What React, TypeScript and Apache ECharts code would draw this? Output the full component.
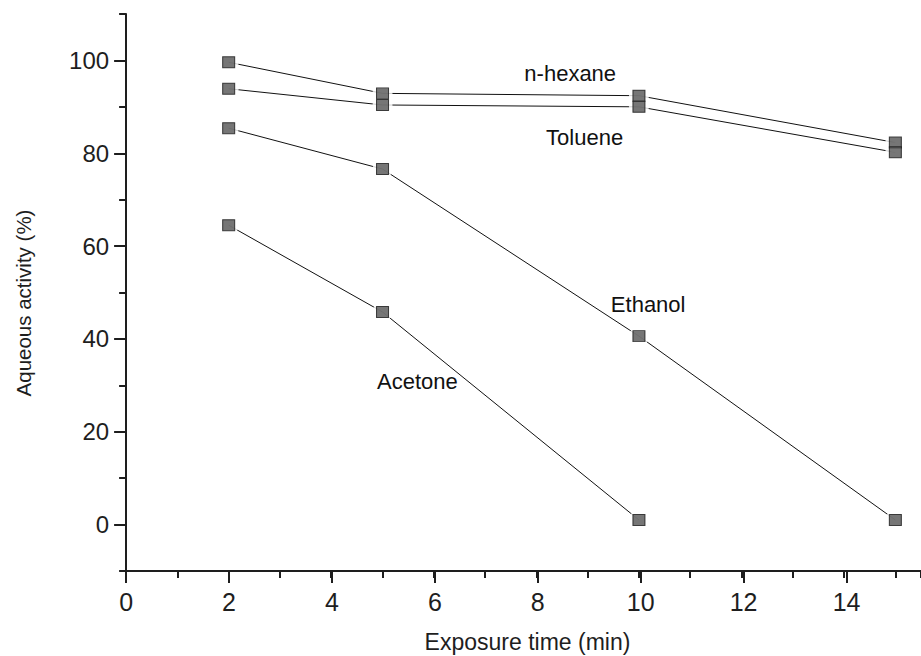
import React, { useEffect, useRef } from "react";
import * as echarts from "echarts";

// ---- data ----
const times = [2, 5, 10, 15];
const hexane = [99.6, 92.9, 92.4, 82.3];
const toluene = [93.9, 90.4, 90.0, 80.2];
const ethanol = [85.4, 76.6, 40.6, 1.0];
const acetoneTimes = [2, 5, 10];
const acetone = [64.5, 45.8, 1.0];

const seriesNames = ["n-hexane", "Toluene", "Ethanol", "Acetone"];
// label anchor positions in data units [time, activity]
const labelX = [8.66, 8.94, 10.18, 5.68];
const labelY = [97.1, 83.5, 47.5, 30.8];

const xTitle = "Exposure time (min)";
const yTitle = "Aqueous activity (%)";

const FONT = "'Liberation Sans', Arial, Helvetica, sans-serif";
const INK = "#1e1e1e";

export default function App() {
  const ref = useRef<HTMLDivElement>(null);

  useEffect(() => {
    if (!ref.current) return;
    const chart = echarts.init(ref.current, null, { renderer: "svg" });

    const pairs = (xs: number[], ys: number[]) => xs.map((x, i) => [x, ys[i]]);
    const curves = [
      pairs(times, hexane),
      pairs(times, toluene),
      pairs(times, ethanol),
      pairs(acetoneTimes, acetone),
    ];
    const allPts = curves.flat();

    const left = 126.1;
    const pxPerX = 51.46;
    const top = 14;
    const pxPerY = 4.6417;
    const yMin = -10;
    const yMax = 110;
    const xMax = 15.5;

    const lineSeries = curves.map((d, i) => ({
      type: "line",
      name: seriesNames[i],
      xAxisIndex: 0,
      yAxisIndex: 0,
      data: d,
      symbol: "none",
      lineStyle: { color: "#111", width: 1 },
      z: 2,
      silent: true,
    }));

    const option: any = {
      animation: false,
      backgroundColor: "#ffffff",
      grid: [
        {
          left: left,
          top: top,
          width: xMax * pxPerX,
          height: (yMax - yMin) * pxPerY,
        },
        {
          left: left,
          top: top + (yMax - 100) * pxPerY,
          width: 100,
          height: 100 * pxPerY,
        },
        {
          left: left,
          top: top,
          width: 14 * pxPerX,
          height: (yMax - yMin) * pxPerY,
        },
      ],
      xAxis: [
        {
          type: "value",
          gridIndex: 0,
          min: 0,
          max: xMax,
          interval: 1,
          position: "bottom",
          axisLine: { show: true, onZero: false, lineStyle: { color: INK, width: 2 } },
          axisTick: { show: true, length: 7, lineStyle: { color: INK, width: 2 } },
          axisLabel: { show: false },
          splitLine: { show: false },
        },
        {
          type: "value",
          gridIndex: 1,
          min: 0,
          max: 1,
          show: false,
        },
        {
          type: "value",
          gridIndex: 2,
          min: 0,
          max: 14,
          interval: 2,
          position: "bottom",
          axisLine: { show: false, onZero: false },
          axisTick: { show: true, length: 12, lineStyle: { color: INK, width: 2 } },
          axisLabel: {
            show: true,
            margin: 18,
            fontSize: 25,
            fontFamily: FONT,
            color: INK,
          },
          splitLine: { show: false },
        },
      ],
      yAxis: [
        {
          type: "value",
          gridIndex: 0,
          min: yMin,
          max: yMax,
          interval: 10,
          axisLine: { show: true, onZero: false, lineStyle: { color: INK, width: 2 } },
          axisTick: { show: true, length: 7, lineStyle: { color: INK, width: 2 } },
          axisLabel: { show: false },
          splitLine: { show: false },
        },
        {
          type: "value",
          gridIndex: 1,
          min: 0,
          max: 100,
          interval: 20,
          axisLine: { show: false, onZero: false },
          axisTick: { show: true, length: 12, lineStyle: { color: INK, width: 2 } },
          axisLabel: {
            show: true,
            margin: 17,
            fontSize: 24,
            fontFamily: FONT,
            color: INK,
          },
          splitLine: { show: false },
        },
        {
          type: "value",
          gridIndex: 2,
          min: yMin,
          max: yMax,
          show: false,
        },
      ],
      series: [
        ...lineSeries,
        {
          type: "scatter",
          name: "gaps",
          xAxisIndex: 0,
          yAxisIndex: 0,
          data: allPts,
          symbol: "circle",
          symbolSize: 20,
          itemStyle: { color: "#ffffff" },
          z: 3,
          silent: true,
        },
        {
          type: "scatter",
          name: "markers",
          xAxisIndex: 0,
          yAxisIndex: 0,
          data: allPts,
          symbol: "rect",
          symbolSize: [12, 11],
          itemStyle: { color: "#545454", borderColor: "#1a1a1a", borderWidth: 1 },
          z: 4,
          silent: true,
        },
        {
          type: "scatter",
          name: "labels",
          xAxisIndex: 0,
          yAxisIndex: 0,
          data: seriesNames.map((n, i) => ({ name: n, value: [labelX[i], labelY[i]] })),
          symbol: "circle",
          symbolSize: 1,
          itemStyle: { color: "rgba(255,255,255,0)" },
          label: {
            show: true,
            position: "inside",
            formatter: (p: any) => p.name,
            fontSize: 22,
            fontFamily: FONT,
            color: "#111",
            textBorderWidth: 0,
            opacity: 1,
          },
          z: 5,
          silent: true,
        },
      ],
      graphic: [
        {
          type: "text",
          x: 527.5,
          y: 642,
          style: {
            text: xTitle,
            fontSize: 23,
            fontFamily: FONT,
            fill: INK,
            textAlign: "center",
            textVerticalAlign: "middle",
          },
        },
        {
          type: "text",
          x: 23,
          y: 303,
          rotation: Math.PI / 2,
          style: {
            text: yTitle,
            fontSize: 20.5,
            fontFamily: FONT,
            fill: INK,
            textAlign: "center",
            textVerticalAlign: "middle",
          },
        },
      ],
    };

    chart.setOption(option);
    return () => chart.dispose();
  }, []);

  return (
    <div
      ref={ref}
      style={{ position: "absolute", left: 0, top: 0, width: 921, height: 656, background: "#fff" }}
    />
  );
}
